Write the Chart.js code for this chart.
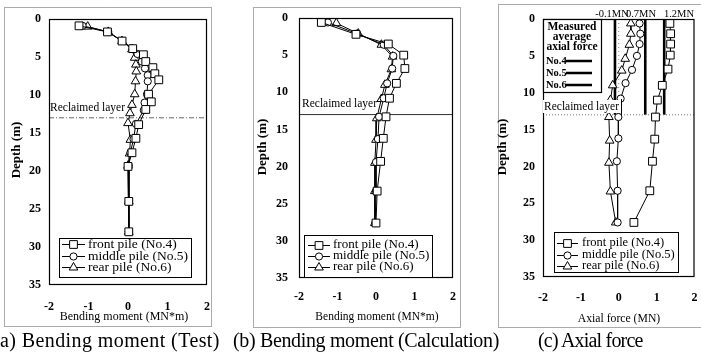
<!DOCTYPE html>
<html>
<head>
<meta charset="utf-8">
<script src="https://cdn.jsdelivr.net/npm/chart.js@4.4.1/dist/chart.umd.min.js"></script>
<style>
  html, body { margin: 0; padding: 0; background: #fff; width: 701px; height: 357px; overflow: hidden; }
  body { position: relative; }
  canvas { position: absolute; left: 0; top: 0; }
  .cap { position: absolute; font-family: "Liberation Serif", "Times New Roman", serif; font-size: 20px;
         line-height: 22px; white-space: nowrap; color: #000; }
</style>
</head>
<body>
<canvas id="pa" width="701" height="357"></canvas>
<canvas id="pb" width="701" height="357"></canvas>
<canvas id="pc" width="701" height="357"></canvas>
<div class="cap" style="left:-7px; top:329px; letter-spacing:0.4px;">(a) Bending moment (Test)</div>
<div class="cap" style="left:233px; top:329px; letter-spacing:-0.35px;">(b) Bending moment (Calculation)</div>
<div class="cap" style="left:538px; top:329px; letter-spacing:-0.8px;">(c) Axial force</div>
<script>
// ---- axis ticks ----
const xTickValues = [-2, -1, 0, 1, 2];
const depthTickValues = [0, 5, 10, 15, 20, 25, 30, 35];
const reclaimedDepth = 13;                 // bottom of the reclaimed layer (m)

const pileNames = ['front pile (No.4)', 'middle pile (No.5)', 'rear pile (No.6)'];
const pileShort = ['No.4', 'No.5', 'No.6'];

// ---- (a) bending moment, test (MN*m) vs depth (m) ----
const testFrontDepth  = [0.9, 1.7, 2.9, 3.9, 4.7, 5.6, 6.4, 7.2, 8.0, 9.9, 10.9, 11.9, 13.9, 15.7, 17.6, 19.4, 24.0, 28.0];
const testFront       = [-1.24, -0.52, -0.15, 0.12, 0.39, 0.45, 0.63, 0.68, 0.78, 0.52, 0.59, 0.45, 0.27, 0.20, 0.10, 0.00, 0.02, 0.02];
const testMiddleDepth = [0.9, 1.7, 2.9, 3.9, 4.6, 5.6, 6.5, 7.4, 8.2, 9.9, 11.0, 12.0, 13.8, 15.8, 17.6, 19.3, 24.0, 28.0];
const testMiddle      = [-1.15, -0.50, -0.15, 0.12, 0.24, 0.35, 0.43, 0.50, 0.50, 0.48, 0.42, 0.40, 0.20, 0.14, 0.06, 0.02, 0.02, 0.02];
const testRearDepth   = [1.0, 1.7, 2.9, 4.0, 5.1, 6.0, 6.9, 8.2, 9.9, 11.3, 12.4, 13.7, 15.9, 17.7, 19.3, 24.0, 28.0];
const testRear        = [-1.02, -0.50, -0.15, 0.10, 0.17, 0.20, 0.21, 0.19, 0.17, 0.10, 0.05, 0.00, 0.06, 0.04, 0.00, 0.02, 0.02];

// ---- (b) bending moment, calculation (MN*m) vs depth (m) ----
const calcFrontDepth  = [0.6, 2.2, 3.5, 5.0, 6.8, 8.8, 10.8, 13.3, 16.2, 19.3, 23.3, 27.6];
const calcFront       = [-1.42, -0.52, 0.32, 0.72, 0.75, 0.53, 0.35, 0.26, 0.19, 0.12, 0.03, 0.00];
const calcMiddleDepth = [0.6, 2.1, 3.6, 5.1, 6.8, 8.8, 10.8, 13.3, 16.3, 19.4, 23.3, 27.6];
const calcMiddle      = [-1.25, -0.50, 0.20, 0.45, 0.42, 0.29, 0.20, 0.08, 0.05, 0.00, 0.00, -0.02];
const calcRearDepth   = [0.7, 2.1, 3.6, 5.2, 6.9, 9.0, 10.9, 13.5, 16.4, 19.5, 23.3, 27.6];
const calcRear        = [-1.03, -0.46, 0.14, 0.43, 0.40, 0.23, 0.14, 0.02, 0.00, -0.03, -0.03, -0.03];

// ---- (c) axial force (MN) vs depth (m) ----
const axialFrontDepth  = [0.6, 2.0, 3.4, 4.9, 6.8, 9.0, 11.0, 13.3, 16.3, 19.3, 23.3, 27.6];
const axialFront       = [1.35, 1.37, 1.37, 1.36, 1.30, 1.15, 1.02, 0.97, 0.95, 0.89, 0.82, 0.40];
const axialMiddleDepth = [0.6, 2.0, 3.4, 5.0, 6.9, 8.7, 10.8, 13.3, 16.2, 19.3, 23.3, 27.6];
const axialMiddle      = [0.55, 0.57, 0.55, 0.48, 0.35, 0.18, 0.05, -0.01, -0.01, -0.05, -0.03, -0.03];
const axialRearDepth   = [0.6, 2.0, 3.5, 5.4, 7.0, 9.0, 11.0, 13.3, 16.5, 19.5, 23.4, 27.6];
const axialRear        = [0.32, 0.32, 0.28, 0.17, 0.08, -0.16, -0.22, -0.26, -0.24, -0.26, -0.22, -0.08];

// measured average axial force in the reclaimed layer, No.4 / No.5 / No.6 (MN)
const measuredAvg = [1.2, 0.7, -0.1];

// ---- drawing ----
const W = 701, H = 357;
const X_AXIS_H = 30;                       // space reserved under each plot for the x tick labels
const SERIF = '"Liberation Serif", "Times New Roman", serif';
const marks = ['rect', 'circle', 'triangle'];
const markRadius = [5.5, 3.6, 5];

function drawMark(ctx, i, x, y) {
  ctx.save();
  ctx.fillStyle = '#fff'; ctx.strokeStyle = '#000'; ctx.lineWidth = 1; ctx.setLineDash([]);
  Chart.helpers.drawPoint(ctx, { pointStyle: marks[i], radius: markRadius[i], borderWidth: 1, rotation: 0 }, x, y);
  ctx.restore();
}

function makeDecor(p) {
  return {
    id: 'decor_' + p.id,
    afterDatasetsDraw(chart) {
      const ctx = chart.ctx, a = chart.chartArea;
      const ys = chart.scales.y;
      ctx.save();
      // outer panel border
      ctx.strokeStyle = '#555'; ctx.lineWidth = 1; ctx.setLineDash([1, 1]);
      ctx.strokeRect(p.box[0] + 0.5, p.box[1] + 0.5, p.box[2] - p.box[0], p.box[3] - p.box[1]);
      ctx.setLineDash([]);
      // plot frame
      ctx.strokeStyle = '#000'; ctx.lineWidth = 1.2;
      ctx.strokeRect(a.left + 0.5, a.top + 0.5, a.right - a.left - 1, a.bottom - a.top - 1);

      ctx.fillStyle = '#000';
      // axis titles
      ctx.font = p.xTitleSize + 'px ' + SERIF;
      ctx.textAlign = 'center'; ctx.textBaseline = 'middle';
      ctx.fillText(p.xTitle, p.xTitlePos[0], p.xTitlePos[1]);
      ctx.save();
      ctx.translate(p.yTitlePos[0], p.yTitlePos[1]);
      ctx.rotate(-Math.PI / 2);
      ctx.font = 'bold 13px ' + SERIF;
      ctx.fillText('Depth (m)', 0, 0);
      ctx.restore();

      // reclaimed layer label
      ctx.font = '11.5px ' + SERIF;
      ctx.textAlign = 'left';
      const ly = p.layerLabel[1];
      if (p.layerLabelBg) {
        const tw = ctx.measureText('Reclaimed layer').width;
        ctx.fillStyle = '#fff';
        ctx.fillRect(p.layerLabel[0] - 1, ly - 7, tw + 3, 13);
        ctx.strokeStyle = '#000'; ctx.lineWidth = 1;
        ctx.beginPath(); ctx.moveTo(p.layerLabel[0] + tw + 2.5, ly - 8); ctx.lineTo(p.layerLabel[0] + tw + 2.5, ys.getPixelForValue(reclaimedDepth)); ctx.stroke();
        ctx.fillStyle = '#000';
      }
      ctx.fillText('Reclaimed layer', p.layerLabel[0], ly);

      // pile legend
      const L = p.legend;
      ctx.fillStyle = '#fff';
      ctx.fillRect(L.box[0], L.box[1], L.box[2] - L.box[0], L.box[3] - L.box[1]);
      ctx.strokeStyle = '#000'; ctx.lineWidth = 1;
      ctx.strokeRect(L.box[0] + 0.5, L.box[1] + 0.5, L.box[2] - L.box[0], L.box[3] - L.box[1]);
      ctx.font = L.size + 'px ' + SERIF;
      ctx.textBaseline = 'middle';
      pileNames.forEach((name, i) => {
        const y = L.rows[i];
        ctx.beginPath(); ctx.moveTo(L.line[0], y + 0.5); ctx.lineTo(L.line[1], y + 0.5); ctx.stroke();
        drawMark(ctx, i, (L.line[0] + L.line[1]) / 2, y + 0.5);
        ctx.fillStyle = '#000';
        ctx.fillText(name, L.textX, y);
      });

      // measured average axial force (panel c only)
      if (p.measured) {
        const M = p.measured;
        ctx.fillStyle = '#fff';
        ctx.fillRect(M.box[0], M.box[1], M.box[2] - M.box[0], M.box[3] - M.box[1]);
        ctx.strokeStyle = '#000'; ctx.lineWidth = 1.2;
        ctx.strokeRect(M.box[0] + 0.5, M.box[1] + 0.5, M.box[2] - M.box[0], M.box[3] - M.box[1]);
        ctx.fillStyle = '#000';
        ctx.font = 'bold 11.5px ' + SERIF; ctx.textAlign = 'center';
        M.head.forEach((t, k) => ctx.fillText(t, (M.box[0] + M.box[2]) / 2, M.headRows[k]));
        ctx.font = 'bold 10.5px ' + SERIF; ctx.textAlign = 'left';
        pileShort.forEach((t, i) => {
          const y = M.rows[i];
          ctx.fillText(t, M.box[0] + 3, y);
          ctx.lineWidth = 2.5;
          ctx.beginPath(); ctx.moveTo(M.line[0], y); ctx.lineTo(M.line[1], y); ctx.stroke();
        });
        // value labels above the plot
        ctx.font = '10.5px ' + SERIF; ctx.textAlign = 'center';
        measuredAvg.forEach((v, i) => ctx.fillText(v + 'MN', M.labelX[i], M.labelY));
      }
      ctx.restore();
    }
  };
}

function buildChart(p) {
  const datasets = p.series.map(([depth, val], i) => ({
    label: pileNames[i],
    data: depth.map((d, k) => ({ x: val[k], y: d })),
    showLine: true, borderColor: '#000', borderWidth: 1, tension: 0,
    pointStyle: marks[i], pointRadius: markRadius[i], pointHoverRadius: markRadius[i],
    pointBackgroundColor: '#fff', pointBorderColor: '#000', pointBorderWidth: 1
  }));
  // reclaimed layer boundary
  datasets.push({
    label: 'Reclaimed layer',
    data: [{ x: -2, y: reclaimedDepth }, { x: 2, y: reclaimedDepth }],
    showLine: true, borderColor: p.layerStyle.color, borderWidth: 1, borderDash: p.layerStyle.dash, pointRadius: 0
  });
  if (p.measured) {
    // thin dotted zero line inside the reclaimed layer
    datasets.push({
      label: 'zero', data: [{ x: 0, y: 0 }, { x: 0, y: reclaimedDepth }],
      showLine: true, borderColor: '#888', borderWidth: 1, borderDash: [1, 3], pointRadius: 0
    });
    measuredAvg.forEach((v, i) => datasets.push({
      label: pileShort[i], data: [{ x: v, y: 0 }, { x: v, y: reclaimedDepth }],
      showLine: true, borderColor: '#000', borderWidth: 2.6, pointRadius: 0
    }));
  }
  const tickFont = { family: SERIF, size: 12, weight: 'bold' };
  new Chart(document.getElementById(p.id), {
    type: 'scatter',
    data: { datasets },
    options: {
      responsive: false, animation: false, events: [],
      layout: { padding: { left: 0, top: p.area[1], right: W - p.area[2], bottom: H - p.area[3] - X_AXIS_H } },
      plugins: { legend: { display: false }, tooltip: { enabled: false } },
      scales: {
        x: {
          type: 'linear', min: -2, max: 2,
          grid: { display: false, drawTicks: false }, border: { display: false },
          ticks: { padding: p.xPad, color: '#000', font: tickFont, autoSkip: false, maxRotation: 0 },
          afterBuildTicks: s => { s.ticks = xTickValues.map(value => ({ value })); },
          afterFit: s => { s.height = X_AXIS_H; s.paddingLeft = 0; s.paddingRight = 0; }
        },
        y: {
          type: 'linear', reverse: true, min: 0, max: 35,
          grid: { display: false, drawTicks: false }, border: { display: false },
          ticks: { padding: p.yPad, color: '#000', font: tickFont, autoSkip: false },
          afterBuildTicks: s => { s.ticks = depthTickValues.map(value => ({ value })); },
          afterFit: s => { s.width = p.area[0]; s.paddingTop = 0; s.paddingBottom = 0; }
        }
      }
    },
    plugins: [makeDecor(p)]
  });
}

buildChart({
  id: 'pa', area: [49, 19, 207, 285], yPad: 8, xPad: 15, box: [4, 7, 211, 326],
  series: [[testFrontDepth, testFront], [testMiddleDepth, testMiddle], [testRearDepth, testRear]],
  layerStyle: { color: '#666', dash: [5, 2, 1, 2] },
  xTitle: 'Bending moment (MN*m)', xTitleSize: 12, xTitlePos: [124, 317], yTitlePos: [17, 150],
  layerLabel: [50, 108],
  legend: { box: [59, 238, 191, 277], rows: [244, 256, 267], line: [62, 85], textX: 88, size: 13.5 }
});
buildChart({
  id: 'pb', area: [299, 18, 453, 278], yPad: 11, xPad: 12, box: [253, 7, 460, 327],
  series: [[calcFrontDepth, calcFront], [calcMiddleDepth, calcMiddle], [calcRearDepth, calcRear]],
  layerStyle: { color: '#333', dash: [] },
  xTitle: 'Bending moment (MN*m)', xTitleSize: 11.5, xTitlePos: [377, 317], yTitlePos: [263, 147],
  layerLabel: [302, 104],
  legend: { box: [304, 235, 432, 277], rows: [245, 256, 267], line: [308, 330], textX: 333, size: 13 }
});
buildChart({
  id: 'pc', area: [543, 19, 700, 277], yPad: 8, xPad: 14, box: [498, 4, 710, 327],
  series: [[axialFrontDepth, axialFront], [axialMiddleDepth, axialMiddle], [axialRearDepth, axialRear]],
  layerStyle: { color: '#777', dash: [1, 2] },
  xTitle: 'Axial force (MN)', xTitleSize: 11.7, xTitlePos: [619, 319], yTitlePos: [503, 147],
  layerLabel: [544, 107], layerLabelBg: true,
  legend: { box: [554, 232, 678, 272], rows: [243, 255, 266], line: [557, 578], textX: 582, size: 12.5 },
  measured: {
    box: [543, 19, 601, 92],
    head: ['Measured', 'average', 'axial force'], headRows: [27, 37, 47],
    rows: [61, 73, 85], line: [566, 592],
    labelX: [679, 641, 612], labelY: 14
  }
});
</script>
</body>
</html>
